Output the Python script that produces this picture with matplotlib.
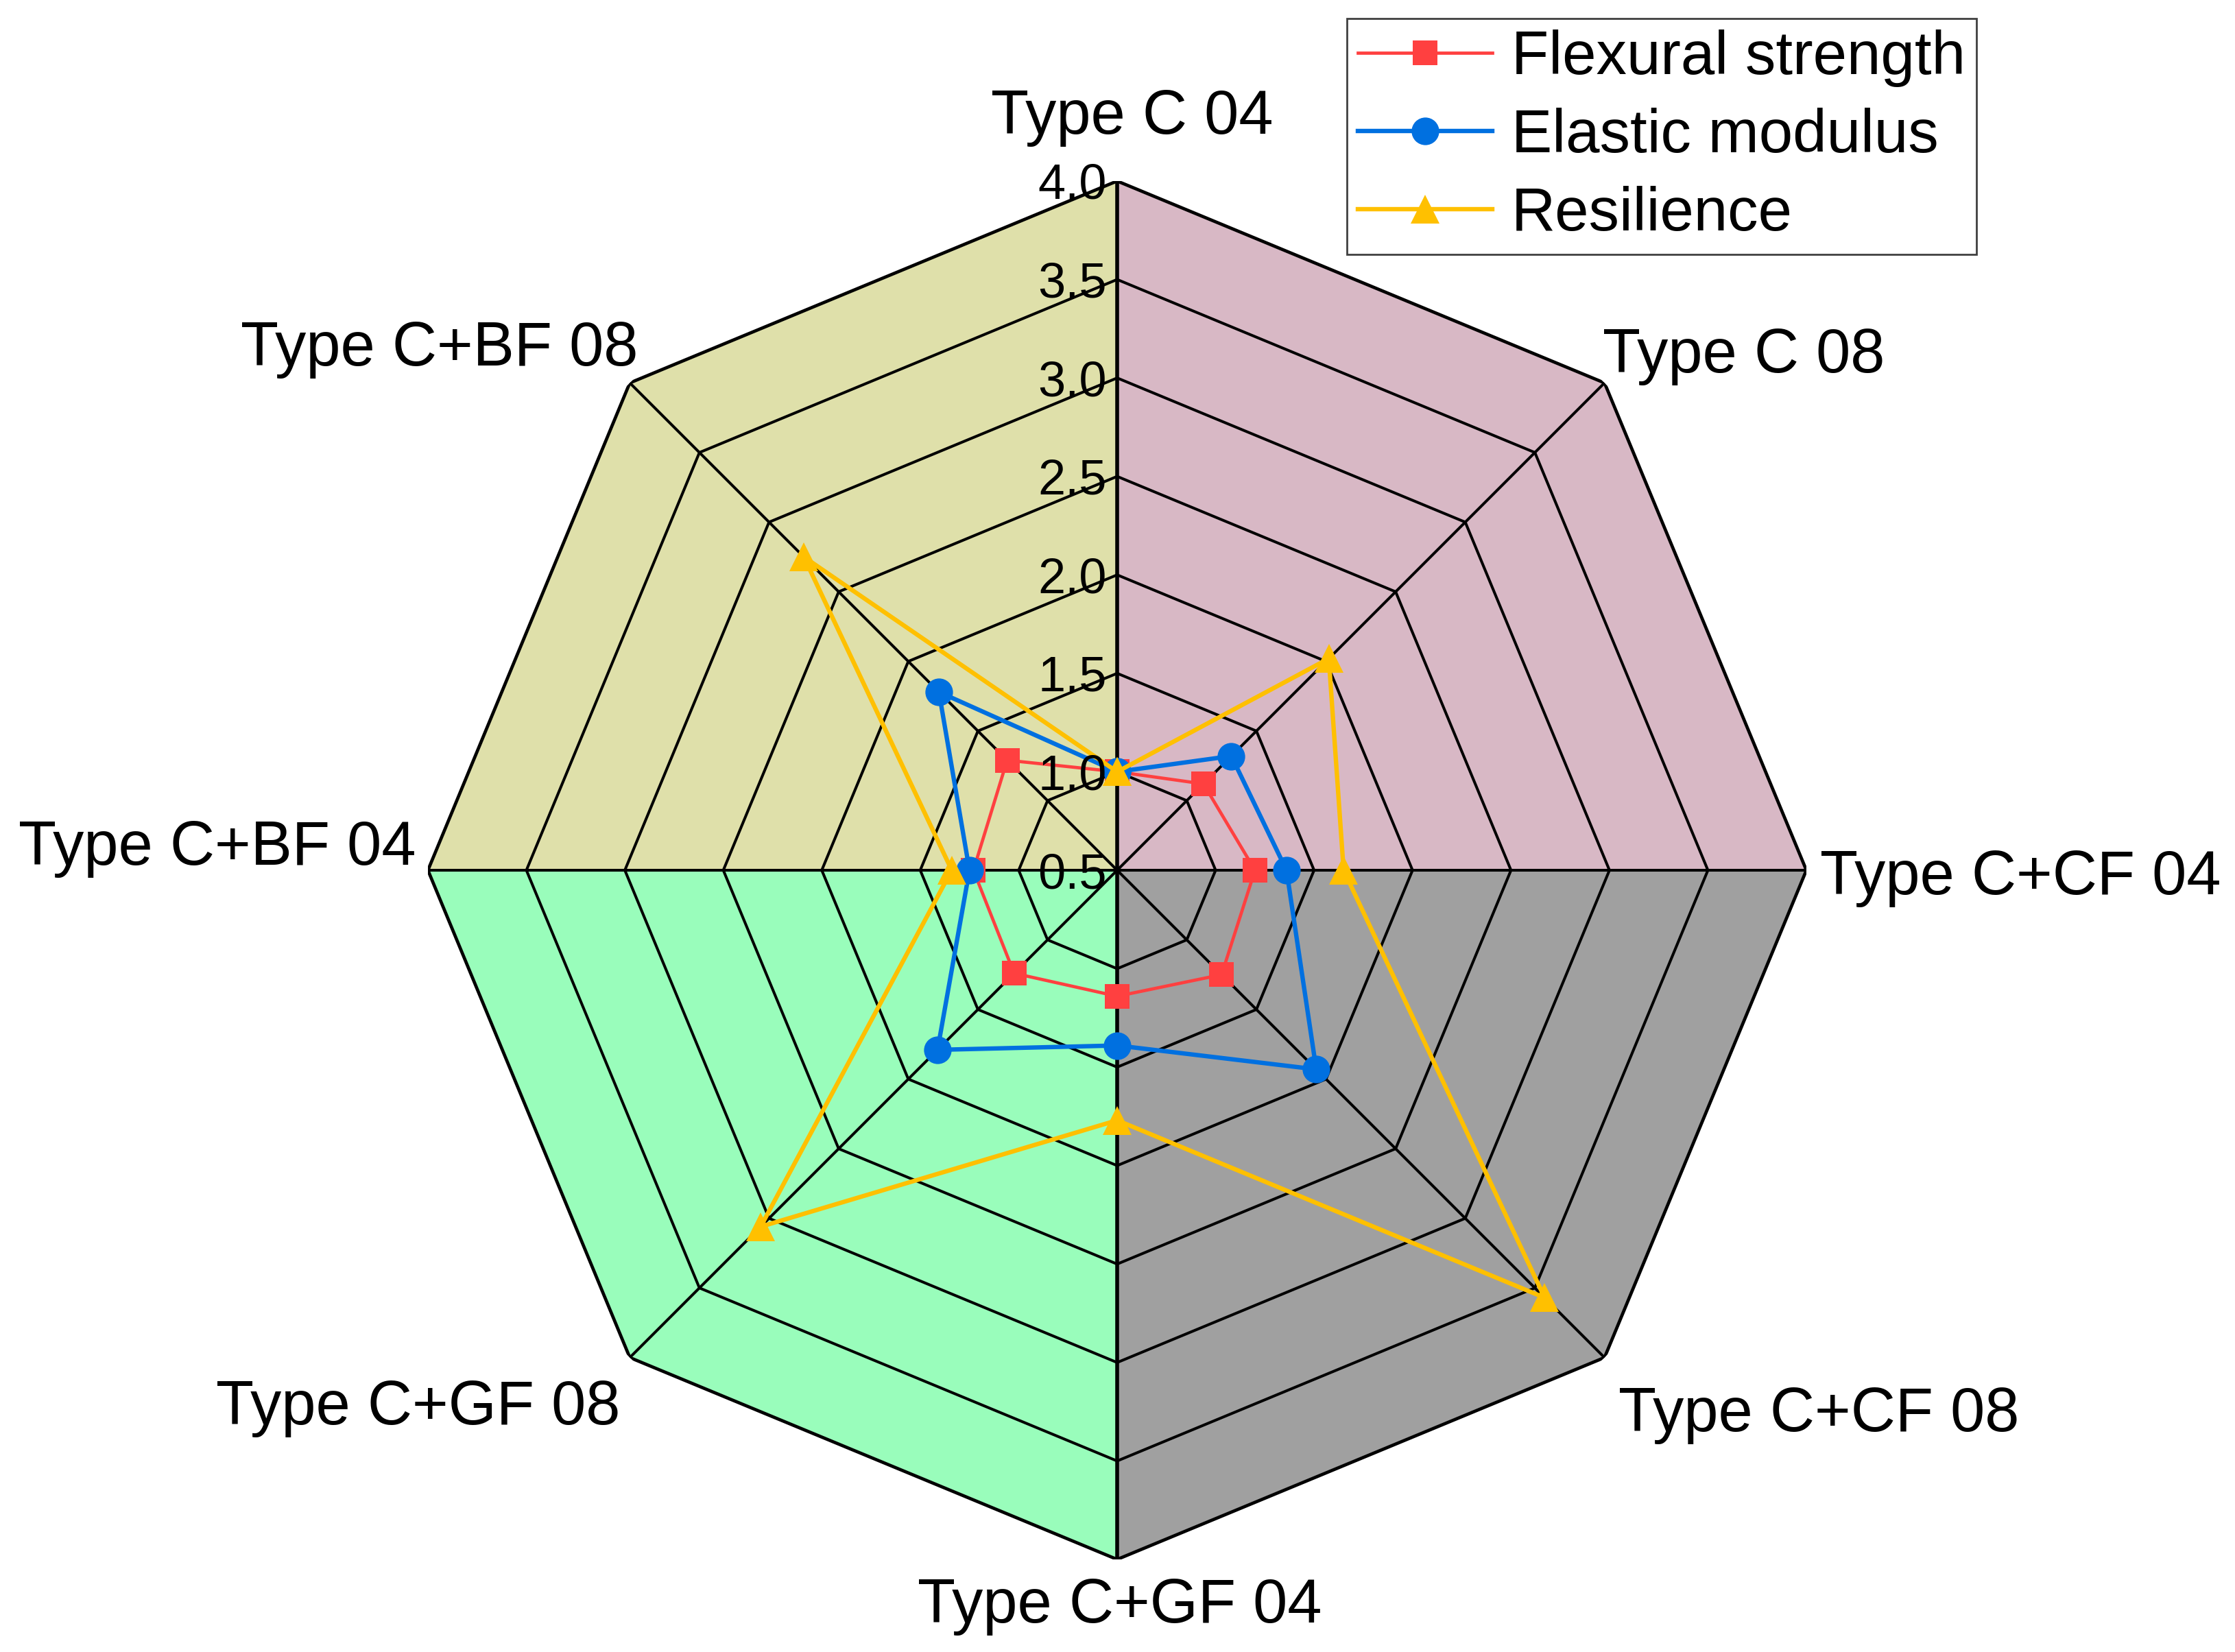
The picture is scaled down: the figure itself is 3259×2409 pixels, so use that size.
import numpy as np
import matplotlib
matplotlib.use("Agg")
import matplotlib.pyplot as plt

plt.rcParams['font.family'] = ['Liberation Sans', 'DejaVu Sans']

categories = ["Type C 04", "Type C 08", "Type C+CF 04", "Type C+CF 08",
              "Type C+GF 04", "Type C+GF 08", "Type C+BF 04", "Type C+BF 08"]
flexural = [1.00, 1.12, 1.20, 1.25, 1.14, 1.24, 1.23, 1.29]
elastic = [1.00, 1.32, 1.36, 1.93, 1.39, 1.79, 1.25, 1.78]
resilience = [1.00, 2.02, 1.65, 3.57, 1.77, 3.06, 1.34, 2.75]
ring_values = [1.0, 1.5, 2.0, 2.5, 3.0, 3.5, 4.0]
tick_labels = ["0.5", "1.0", "1.5", "2.0", "2.5", "3.0", "3.5", "4.0"]
tick_values = [0.5, 1.0, 1.5, 2.0, 2.5, 3.0, 3.5, 4.0]
quadrant_colors = ["#D8B8C5", "#A0A0A0", "#99FDBB", "#DFE0AA"]

W, H, DPI = 3259, 2409, 200
fig = plt.figure(figsize=(W / DPI, H / DPI), dpi=DPI)
cx, cy, R = 1629, 1269, 1005
ax = fig.add_axes([(cx - R) / W, (H - cy - R) / H, 2 * R / W, 2 * R / H], projection='polar')
ax.set_theta_zero_location('N')
ax.set_theta_direction(-1)
ax.set_ylim(0.5, 4.0)
ax.grid(False)
ax.set_xticks([])
ax.set_yticks([])
ax.spines['polar'].set_visible(False)
ax.patch.set_visible(False)

n = len(categories)
angles = np.arange(n) * 2 * np.pi / n
rmax = 4.0
rmin = 0.5

# quadrant fills
for q in range(4):
    th = [0.0, angles[2 * q], angles[2 * q + 1], angles[(2 * q + 2) % n] if q < 3 else 2 * np.pi]
    rr = [rmin, rmax, rmax, rmax]
    ax.fill(th, rr, color=quadrant_colors[q], zorder=0.5, lw=0)

# rings
closed = np.concatenate([angles, angles[:1]])
for v in ring_values:
    lw = 1.7 if v == rmax else 1.45
    ax.plot(closed, [v] * (n + 1), color='black', lw=lw, zorder=1, solid_joinstyle='miter')
# spokes
for a in angles:
    lw = 2.0 if a in (0.0, np.pi) else 1.45
    ax.plot([a, a], [rmin, rmax], color='black', lw=lw, zorder=1)

# data
series = [
    (flexural, "Flexural strength", "#FF4040", 's', 13, 1.7),
    (elastic, "Elastic modulus", "#0070E0", 'o', 14.5, 2.3),
    (resilience, "Resilience", "#FFC000", '^', 15, 2.3),
]
handles = []
for i, (vals, lab, col, mk, ms, lw) in enumerate(series):
    vv = list(vals) + [vals[0]]
    h, = ax.plot(closed, vv, color=col, marker=mk, markersize=ms, lw=lw,
                 markeredgewidth=0, label=lab, zorder=3 + i, clip_on=False)
    handles.append(h)

# tick labels along top axis
for v, t in zip(tick_values, tick_labels):
    ax.annotate(t, xy=(0, v), xytext=(-15, -26), textcoords='offset pixels',
                ha='right', va='baseline', fontsize=26, zorder=10,
                annotation_clip=False)

# category labels
label_pos = [
    (22, 69, 'center'),
    (-3, 15, 'left'),
    (20, -35, 'left'),
    (20, -107, 'left'),
    (4, -92, 'center'),
    (-14, -97, 'right'),
    (-18, 8, 'right'),
    (12, 25, 'right'),
]
for a, lab, (dx, dy, ha) in zip(angles, categories, label_pos):
    ax.annotate(lab, xy=(a, rmax), xytext=(dx, dy), textcoords='offset pixels',
                ha=ha, va='baseline', fontsize=32.5, annotation_clip=False)

leg = fig.legend(handles=handles, loc='upper right',
                 bbox_to_anchor=(2882 / W, 1 - 27 / H), bbox_transform=fig.transFigure,
                 fontsize=32, frameon=True, fancybox=False, framealpha=1,
                 edgecolor='#404040', handlelength=2.2, handletextpad=0.32,
                 borderpad=0.18, labelspacing=0.34, borderaxespad=0)
leg.get_frame().set_linewidth(1.0)

fig.savefig("out.png", dpi=DPI)
